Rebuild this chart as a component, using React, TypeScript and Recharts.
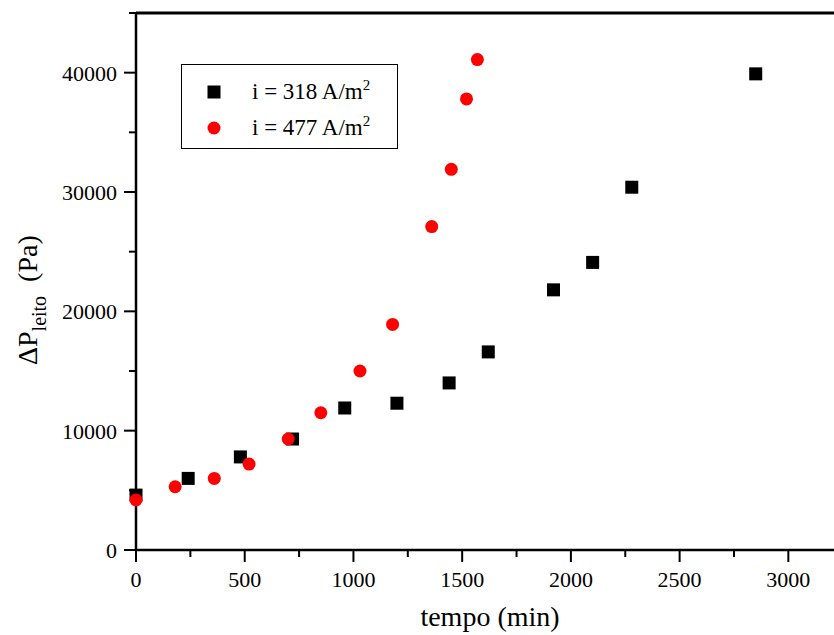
import { ScatterChart, Scatter, XAxis, YAxis, Legend, ReferenceLine } from "recharts";

// tempo (min) vs pressure drop (Pa)
const tempo318 = [0, 240, 480, 720, 960, 1200, 1440, 1620, 1920, 2100, 2280, 2850];
const dp318 = [4600, 6000, 7800, 9300, 11900, 12300, 14000, 16600, 21800, 24100, 30400, 39900];

const tempo477 = [0, 180, 360, 520, 700, 850, 1030, 1180, 1360, 1450, 1520, 1570];
const dp477 = [4200, 5300, 6000, 7200, 9300, 11500, 15000, 18900, 27100, 31900, 37800, 41100];

const xTicks = [0, 250, 500, 750, 1000, 1250, 1500, 1750, 2000, 2250, 2500, 2750, 3000];
const yTicks = [0, 5000, 10000, 15000, 20000, 25000, 30000, 35000, 40000, 45000];

const serieNames = ["i = 318 A/m^2", "i = 477 A/m^2"];

const FONT = "'Liberation Serif', 'Times New Roman', serif";
const txt = { fontFamily: FONT };

const data318 = tempo318.map((t, i) => ({ tempo: t, dp: dp318[i] }));
const data477 = tempo477.map((t, i) => ({ tempo: t, dp: dp477[i] }));

// major ticks every 500 get a label, the ones in between are short
function XTick({ x, y, payload }: any) {
  const major = payload.value % 500 === 0;
  return (
    <g>
      <line x1={x} x2={x} y1={y} y2={y + (major ? 12 : 7)} stroke="#000" strokeWidth={2} />
      {major && (
        <text x={x} y={y + 37} textAnchor="middle" fontSize={22} style={txt} fill="#000">
          {payload.value}
        </text>
      )}
    </g>
  );
}

function YTick({ x, y, payload }: any) {
  const major = payload.value % 10000 === 0;
  return (
    <g>
      <line x1={x - (major ? 12 : 7)} x2={x} y1={y} y2={y} stroke="#000" strokeWidth={2} />
      {major && (
        <text x={x - 19} y={y + 8} textAnchor="end" fontSize={22} style={txt} fill="#000">
          {payload.value}
        </text>
      )}
    </g>
  );
}

const squareShape = (p: any) => (
  <rect x={p.cx - 6.5} y={p.cy - 6.5} width={13} height={13} fill="#000" />
);
const circleShape = (p: any) => <circle cx={p.cx} cy={p.cy} r={6.5} fill="#ff0000" />;

function LegendBox({ payload }: any) {
  return (
    <svg width={217} height={85} style={{ display: "block" }}>
      <rect x={0.5} y={0.5} width={216} height={84} fill="#fff" stroke="#000" strokeWidth={1} />
      {(payload || []).map((entry: any, i: number) => {
        const [base, sup] = String(entry.value).split("^");
        const cy = i === 0 ? 28 : 64;
        return (
          <g key={i}>
            {i === 0 ? (
              <rect x={26.5} y={cy - 6.5} width={13} height={13} fill="#000" />
            ) : (
              <circle cx={33} cy={cy} r={6.5} fill="#ff0000" />
            )}
            <text x={71} y={cy + 7} fontSize={23} style={txt} fill="#000">
              {base}
              <tspan dy={-9} fontSize={15}>
                {sup}
              </tspan>
            </text>
          </g>
        );
      })}
    </svg>
  );
}

const yLabel = () => (
  <text transform="rotate(-90, 37, 365)" x={37} y={365} style={txt} fontSize={28} fill="#000">
    ΔP
    <tspan dy={9} fontSize={20}>
      leito
    </tspan>
    <tspan dy={-9} dx={14} fontSize={28}>
      (Pa)
    </tspan>
  </text>
);

const xLabel = () => (
  <text x={490} y={626} textAnchor="middle" style={txt} fontSize={28} fill="#000">
    tempo (min)
  </text>
);

export default function App() {
  return (
    <div style={{ position: "absolute", left: 0, top: 0, background: "#fff" }}>
      <ScatterChart width={834} height={635} margin={{ top: 13, right: 0, bottom: 0, left: 0 }}>
        <XAxis
          type="number"
          dataKey="tempo"
          domain={[0, 3210]}
          ticks={xTicks}
          interval={0}
          tickSize={0}
          tickMargin={0}
          tickLine={false}
          tick={<XTick />}
          height={85}
          stroke="#000"
          axisLine={{ stroke: "#000", strokeWidth: 2.5 }}
          label={{ content: xLabel }}
        />
        <YAxis
          type="number"
          dataKey="dp"
          domain={[0, 45000]}
          ticks={yTicks}
          interval={0}
          tickSize={0}
          tickMargin={0}
          tickLine={false}
          tick={<YTick />}
          width={136}
          stroke="#000"
          axisLine={{ stroke: "#000", strokeWidth: 2.5 }}
          label={{ content: yLabel }}
        />
        {/* frame line along the top */}
        <ReferenceLine y={45000} stroke="#000" strokeWidth={3} ifOverflow="visible" />
        <Legend
          layout="vertical"
          align="center"
          verticalAlign="middle"
          content={<LegendBox />}
          wrapperStyle={{ left: 181, top: 64, width: 217, height: 85 }}
        />
        <Scatter
          name={serieNames[0]}
          data={data318}
          fill="#000"
          shape={squareShape}
          isAnimationActive={false}
        />
        <Scatter
          name={serieNames[1]}
          data={data477}
          fill="#ff0000"
          shape={circleShape}
          isAnimationActive={false}
        />
      </ScatterChart>
    </div>
  );
}
